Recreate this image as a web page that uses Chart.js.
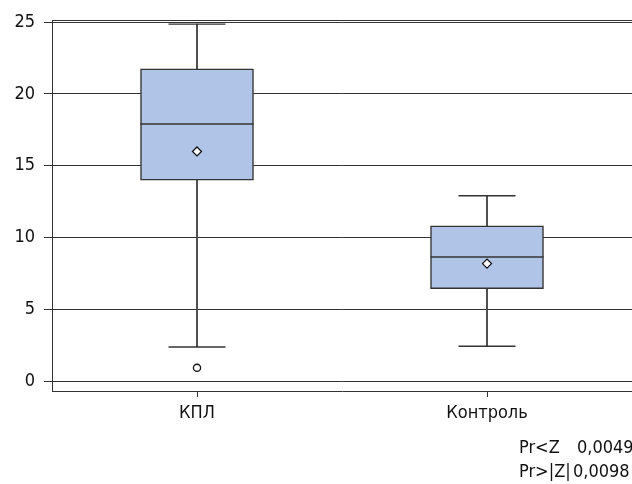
<!DOCTYPE html>
<html>
<head>
<meta charset="utf-8">
<script src="https://cdn.jsdelivr.net/npm/chart.js@4.4.0/dist/chart.umd.min.js"></script>
<style>
  html, body { margin: 0; padding: 0; background: #fff; }
  #wrap { width: 632px; height: 484px; }
</style>
</head>
<body>
<div id="wrap"><canvas id="boxChart"></canvas></div>
<script>
// data
const categories = ['КПЛ', 'Контроль'];
const whiskerLow = [2.4, 2.45];
const q1 = [14.0, 6.45];
const medians = [17.9, 8.65];
const q3 = [21.75, 10.83];
const whiskerHigh = [24.85, 12.92];
const means = [16.0, 8.2];
const outliers = [0.95, null];
const yTicks = [0, 5, 10, 15, 20, 25];
const testLines = [['Pr<Z', '0,0049'], ['Pr>|Z|', '0,0098']];

const FONT = '"Liberation Sans Narrow", "DejaVu Sans Condensed", sans-serif';
const INK = '#333';

const frame = {
  id: 'frame',
  afterDraw(chart) {
    const { ctx, chartArea: a } = chart;
    ctx.save();
    ctx.strokeStyle = INK;
    ctx.lineWidth = 1;
    ctx.beginPath();
    ctx.moveTo(a.left, a.top + 0.5);
    ctx.lineTo(a.right, a.top + 0.5);
    ctx.stroke();
    // test statistics under the plot
    ctx.fillStyle = '#111';
    ctx.font = '18px ' + FONT;
    ctx.textBaseline = 'alphabetic';
    ctx.fillText(testLines[0][0], 519, 453);
    ctx.fillText(testLines[0][1], 577, 453);
    ctx.fillText(testLines[1][0], 519, 477);
    ctx.fillText(testLines[1][1], 573, 477);
    ctx.restore();
  }
};

const ctx = document.getElementById('boxChart').getContext('2d');
const boxChart = new Chart(ctx, {
  data: {
    labels: categories,
    datasets: [
      {
        type: 'line',
        label: 'mean',
        data: means,
        showLine: false,
        pointStyle: 'rectRot',
        pointRadius: 4.5,
        pointBackgroundColor: '#fff',
        pointBorderColor: '#111',
        pointBorderWidth: 1.3,
        order: 0
      },
      {
        type: 'line',
        label: 'outliers',
        data: outliers,
        showLine: false,
        pointStyle: 'circle',
        pointRadius: 3.6,
        pointBackgroundColor: '#fff',
        pointBorderColor: '#111',
        pointBorderWidth: 1.3,
        order: 0
      },
      {
        type: 'line',
        label: 'median',
        data: medians,
        showLine: false,
        pointStyle: 'line',
        pointRadius: 56.5,
        pointBorderColor: INK,
        pointBorderWidth: 1.5,
        order: 1
      },
      {
        type: 'line',
        label: 'caps high',
        data: whiskerHigh,
        showLine: false,
        pointStyle: 'line',
        pointRadius: 28.5,
        pointBorderColor: INK,
        pointBorderWidth: 1.4,
        order: 1
      },
      {
        type: 'line',
        label: 'caps low',
        data: whiskerLow,
        showLine: false,
        pointStyle: 'line',
        pointRadius: 28.5,
        pointBorderColor: INK,
        pointBorderWidth: 1.4,
        order: 1
      },
      {
        type: 'bar',
        label: 'box',
        data: q1.map((v, i) => [v, q3[i]]),
        backgroundColor: '#afc4e7',
        borderColor: INK,
        borderWidth: 1.5,
        borderSkipped: false,
        barThickness: 113,
        grouped: false,
        order: 2
      },
      {
        type: 'bar',
        label: 'whisker',
        data: whiskerLow.map((v, i) => [v, whiskerHigh[i]]),
        backgroundColor: '#444',
        barThickness: 1.2,
        grouped: false,
        order: 3
      }
    ]
  },
  options: {
    responsive: true,
    maintainAspectRatio: false,
    animation: false,
    events: [],
    layout: { autoPadding: false, padding: { top: 20, right: 0, left: 0, bottom: 0 } },
    plugins: {
      legend: { display: false },
      tooltip: { enabled: false }
    },
    scales: {
      x: {
        type: 'category',
        offset: true,
        afterFit(scale) { scale.height = 93; },
        border: { display: true, color: INK, width: 1 },
        grid: {
          offset: false,
          drawOnChartArea: false,
          drawTicks: true,
          tickLength: 6,
          tickColor: INK
        },
        ticks: {
          color: '#111',
          padding: 6,
          font: { family: FONT, size: 18 }
        }
      },
      y: {
        min: -0.66,
        max: 25.14,
        z: 1,
        afterFit(scale) { scale.width = 52; },
        afterBuildTicks(scale) { scale.ticks = yTicks.map(v => ({ value: v })); },
        border: { display: true, color: INK, width: 1 },
        grid: {
          color: INK,
          lineWidth: 1,
          drawTicks: true,
          tickLength: 8,
          tickColor: INK
        },
        ticks: {
          color: '#111',
          padding: 9,
          font: { family: FONT, size: 18 }
        }
      }
    }
  },
  plugins: [frame]
});
</script>
</body>
</html>
